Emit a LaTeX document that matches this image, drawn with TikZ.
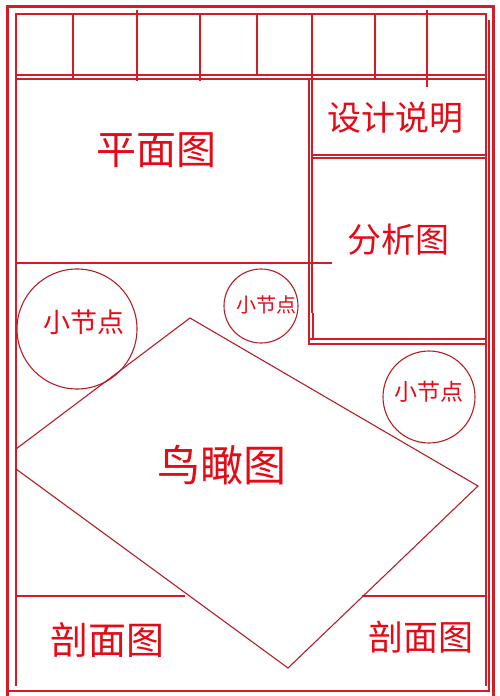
\documentclass[tikz,border=0pt]{standalone}
\usepackage{fontspec}
\newfontfamily\cjk{Noto Sans CJK SC}
\definecolor{txtred}{RGB}{228,10,22}
\definecolor{linered}{RGB}{210,28,38}
\definecolor{circred}{RGB}{180,30,40}
\tikzset{
  thickframe/.style={draw=linered, line width=3pt},
  thinline/.style={draw=linered, line width=1.4pt},
  fineline/.style={draw=circred, line width=1.1pt},
  lbl/.style={text=txtred, inner sep=0pt, font=\cjk},
  spot/.style={circle, draw=circred, line width=1.1pt, inner sep=0pt, text=txtred, font=\cjk}
}
\begin{document}
\begin{tikzpicture}[x=1pt,y=-1pt]
\useasboundingbox (0,0) rectangle (500,696);
% outer thick frame
\draw[thickframe] (7,696) -- (7,6) -- (493,6) -- (493,696);
\draw[thinline] (489,20) -- (489,692);
\draw[thinline] (7,691) -- (489,691);
% inner frame
\draw[thinline] (16,686) -- (16,14) -- (486,14) -- (486,686);
% top strip
\draw[thinline] (16,75) -- (487,75);
\draw[thinline] (16,79) -- (487,79);
\foreach \x/\a/\b in {73/14/80, 137/10/81, 200/13/81, 257/14/75, 375/14/79, 427/10/87}
  \draw[thinline] (\x,\a) -- (\x,\b);
% right column
\draw[thinline] (309,79) -- (309,345);
\draw[thinline] (312,14) -- (312,313);
\draw[thinline] (313,313) -- (313,340);
\draw[thinline] (312,155) -- (486,155);
\draw[thinline] (312,158) -- (486,158);
\draw[thinline] (309,339) -- (486,339);
\draw[thinline] (309,344) -- (486,344);
% plan box bottom
\draw[thinline] (16,263) -- (332,263);
% bottom band lines
\draw[thinline] (16,596) -- (185,596);
\draw[thinline] (362,596) -- (486,596);
% diamond
\draw[fineline] (16,449) -- (190,318) -- (478,486) -- (288,668) -- (16,469);
% circles
\node[spot, minimum size=120pt] (c1) at (77,329) {};
\node[spot, minimum size=74pt] (c2) at (261,306) {};
\node[spot, minimum size=92pt] (c3) at (429,397) {};
% labels
\node[lbl, font=\cjk\fontsize{27}{30}\selectfont] (t1) at (84,322) {小节点};
\node[lbl, font=\cjk\fontsize{20}{22}\selectfont] (t2) at (266,305) {小节点};
\node[lbl, font=\cjk\fontsize{23}{25}\selectfont] (t3) at (429,392) {小节点};
\node[lbl, font=\cjk\fontsize{40}{44}\selectfont] (pm) at (156,150) {平面图};
\node[lbl, font=\cjk\fontsize{34}{38}\selectfont] (sj) at (395,118) {设计说明};
\node[lbl, font=\cjk\fontsize{34}{38}\selectfont] (fx) at (398,240) {分析图};
\node[lbl, font=\cjk\fontsize{43}{46}\selectfont] (nk) at (222,465) {鸟瞰图};
\node[lbl, font=\cjk\fontsize{38}{42}\selectfont] (pl) at (107,640) {剖面图};
\node[lbl, font=\cjk\fontsize{35}{38}\selectfont] (pr) at (421,637) {剖面图};
\end{tikzpicture}
\end{document}
